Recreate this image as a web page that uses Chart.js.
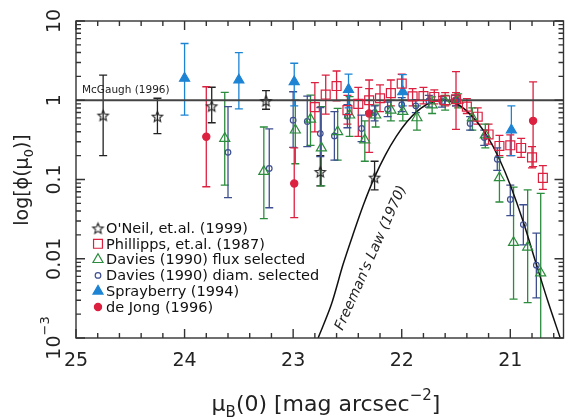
<!DOCTYPE html>
<html>
<head>
<meta charset="utf-8">
<script src="https://cdn.jsdelivr.net/npm/chart.js@4.4.0/dist/chart.umd.min.js"></script>
<style>
  html, body { margin: 0; padding: 0; background: #fff; }
  canvas { display: block; }
</style>
</head>
<body>
<canvas id="chart" width="571" height="420"></canvas>
<script>
// O'Neil et al. (1999) - open stars
const oneilX = [24.75, 24.25, 23.75, 23.25, 22.75, 22.25];
const oneilY = [0.65, 0.63, 0.85, 0.99, 0.126, 0.107];
const oneilLo = [0.20, 0.38, 0.52, 0.77, 0.083, 0.074];
const oneilHi = [2.08, 1.06, 1.46, 1.32, 0.20, 0.17];

// Phillipps et al. (1987) - open squares
const phX = [22.8, 22.7, 22.6, 22.5, 22.4, 22.3, 22.2, 22.1, 22.0, 21.9, 21.8, 21.7, 21.6, 21.5, 21.4, 21.3, 21.2, 21.1, 21.0, 20.9, 20.8, 20.7];
const phY = [0.82, 1.18, 1.51, 0.75, 0.90, 1.0, 1.06, 1.23, 1.62, 1.12, 1.13, 1.1, 1.0, 1.03, 0.83, 0.62, 0.37, 0.265, 0.27, 0.25, 0.19, 0.105];
const phLo = [0.40, 0.67, 0.98, 0.50, 0.35, 0.72, 0.72, 0.85, 1.19, 0.85, 0.9, 0.9, 0.85, 0.85, 0.68, 0.5, 0.28, 0.2, 0.2, 0.19, 0.14, 0.075];
const phHi = [1.67, 2.08, 2.34, 1.15, 1.45, 1.4, 1.56, 1.8, 2.13, 1.4, 1.45, 1.35, 1.25, 1.25, 1.05, 0.8, 0.5, 0.36, 0.365, 0.33, 0.26, 0.15];

// Davies (1990) flux selected - open triangles
const dfX = [23.63, 23.27, 22.98, 22.84, 22.74, 22.59, 22.48, 22.34, 22.24, 22.10, 21.99, 21.86, 21.72, 21.60, 21.48, 21.35, 21.23, 21.10, 20.97, 20.84, 20.72];
const dfY = [0.33, 0.126, 0.42, 0.575, 0.25, 0.40, 0.65, 0.316, 0.65, 0.75, 0.72, 0.60, 0.87, 0.96, 1.0, 0.6, 0.365, 0.105, 0.016, 0.014, 0.0066];
const dfLo = [0.085, 0.032, 0.158, 0.27, 0.083, 0.176, 0.35, 0.17, 0.46, 0.55, 0.55, 0.42, 0.68, 0.75, 0.8, 0.42, 0.25, 0.052, 0.0031, 0.0028, 0.0008];
const dfHi = [1.26, 0.46, 1.0, 1.16, 0.83, 0.79, 1.11, 0.55, 0.87, 1.0, 1.0, 0.85, 1.1, 1.15, 1.2, 0.8, 0.5, 0.19, 0.08, 0.074, 0.067];

// Davies (1990) diameter selected - small open circles
const ddX = [23.6, 23.22, 23.0, 22.87, 22.75, 22.62, 22.50, 22.37, 22.25, 22.13, 22.0, 21.87, 21.75, 21.63, 21.5, 21.37, 21.24, 21.12, 21.0, 20.88, 20.76];
const ddY = [0.22, 0.138, 0.56, 0.54, 0.38, 0.355, 0.63, 0.44, 0.70, 0.77, 0.88, 0.85, 0.98, 0.96, 0.99, 0.51, 0.34, 0.18, 0.056, 0.027, 0.0083];
const ddLo = [0.059, 0.044, 0.255, 0.26, 0.194, 0.176, 0.45, 0.3, 0.55, 0.62, 0.72, 0.7, 0.82, 0.82, 0.85, 0.42, 0.27, 0.13, 0.035, 0.015, 0.0032];
const ddHi = [0.83, 0.435, 1.28, 1.13, 0.81, 0.72, 0.88, 0.65, 0.85, 0.95, 1.08, 1.02, 1.15, 1.12, 1.15, 0.62, 0.42, 0.25, 0.085, 0.048, 0.021];

// Sprayberry (1994) - filled triangles
const spX = [24.0, 23.5, 22.99, 22.49, 21.99, 20.99];
const spY = [1.89, 1.8, 1.71, 1.37, 1.28, 0.42];
const spLo = [0.65, 0.78, 0.85, 0.8, 0.85, 0.2];
const spHi = [5.2, 4.0, 2.93, 2.14, 2.1, 0.85];

// de Jong (1996) - filled circles
const djX = [23.8, 22.99, 22.30, 21.50, 20.79];
const djY = [0.346, 0.089, 0.68, 1.0, 0.55];
const djLo = [0.081, 0.033, 0.22, 0.43, 0.145];
const djHi = [1.48, 0.25, 1.8, 2.3, 1.71];

// McGaugh (1996) flat line and Freeman's law curve
const mcX = [25, 20.5];
const mcY = [1, 1];
const fmX = [22.77, 22.65, 22.54, 22.45, 22.35, 22.25, 22.15, 22.05, 21.95, 21.85, 21.75, 21.62, 21.5, 21.4, 21.3, 21.2, 21.1, 21.0, 20.88, 20.76, 20.65, 20.54];
const fmY = [0.001, 0.0026, 0.0085, 0.02, 0.049, 0.107, 0.205, 0.35, 0.54, 0.74, 0.91, 1.0, 0.91, 0.73, 0.52, 0.33, 0.18, 0.085, 0.029, 0.0085, 0.0028, 0.001];

const xTickValues = [25, 24, 23, 22, 21];
const xTickLabels = ['25', '24', '23', '22', '21'];
const yTickValues = [10, 1, 0.1, 0.01, 0.001];
const yTickLabels = ['10', '1', '0.1', '0.01', '10^-3'];

const legendNames = ["O'Neil, et.al. (1999)", "Phillipps, et.al. (1987)", "Davies (1990) flux selected",
    "Davies (1990) diam. selected", "Sprayberry (1994)", "de Jong (1996)"];

const FONT = "'DejaVu Sans', sans-serif";
const RED = '#dc2040';
const GREEN = '#2a8c3c';
const NAVY = '#3d4f8f';
const BLUE = '#1d84d4';
const BLACK = '#222';

function pts(xs, ys) {
    return xs.map((x, i) => ({ x: x, y: ys[i] }));
}

function makeStar(r, color) {
    const c = document.createElement('canvas');
    const s = Math.ceil(r * 2 + 4);
    c.width = s;
    c.height = s;
    const g = c.getContext('2d');
    g.strokeStyle = color;
    g.lineWidth = 1.1;
    g.beginPath();
    for (let k = 0; k < 10; k++) {
        const rr = k % 2 ? r * 0.45 : r;
        const a = -Math.PI / 2 + k * Math.PI / 5;
        const px = s / 2 + rr * Math.cos(a);
        const py = s / 2 + 0.8 + rr * Math.sin(a);
        if (k) g.lineTo(px, py); else g.moveTo(px, py);
    }
    g.closePath();
    g.stroke();
    return c;
}

const starImg = makeStar(5.5, BLACK);

function markerSet(i, xs, ys, lo, hi, style, radius, color, filled) {
    return {
        label: legendNames[i],
        data: pts(xs, ys),
        errLo: lo,
        errHi: hi,
        errColor: color,
        pointStyle: style,
        pointRadius: radius,
        borderColor: color,
        backgroundColor: filled ? color : 'rgba(0,0,0,0)',
        borderWidth: 1.2,
        filled: filled
    };
}

const datasets = [
    markerSet(0, oneilX, oneilY, oneilLo, oneilHi, starImg, 6, BLACK, false),
    markerSet(1, phX, phY, phLo, phHi, 'rect', 6.3, RED, false),
    markerSet(2, dfX, dfY, dfLo, dfHi, 'triangle', 5.8, GREEN, false),
    markerSet(3, ddX, ddY, ddLo, ddHi, 'circle', 2.8, NAVY, false),
    markerSet(4, spX, spY, spLo, spHi, 'triangle', 5.8, BLUE, true),
    markerSet(5, djX, djY, djLo, djHi, 'circle', 3.6, RED, true),
    {
        label: 'McGaugh', data: pts(mcX, mcY), showLine: true, pointRadius: 0,
        borderColor: '#444', borderWidth: 1.8
    },
    {
        label: 'Freeman', data: pts(fmX, fmY), showLine: true, pointRadius: 0,
        borderColor: '#111', borderWidth: 1.5, tension: 0.3
    }
];

// vertical error bars with caps, drawn under the markers
const errorBars = {
    id: 'errorBars',
    beforeDatasetsDraw(chart) {
        const { ctx, chartArea: a, scales: { x, y } } = chart;
        ctx.save();
        ctx.beginPath();
        ctx.rect(a.left, a.top, a.right - a.left, a.bottom - a.top);
        ctx.clip();
        chart.data.datasets.forEach(ds => {
            if (!ds.errLo) return;
            ctx.strokeStyle = ds.errColor;
            ctx.lineWidth = 1.3;
            ds.data.forEach((p, i) => {
                const px = x.getPixelForValue(p.x);
                const y1 = y.getPixelForValue(ds.errLo[i]);
                const y2 = y.getPixelForValue(ds.errHi[i]);
                ctx.beginPath();
                ctx.moveTo(px, y1); ctx.lineTo(px, y2);
                ctx.moveTo(px - 4, y1); ctx.lineTo(px + 4, y1);
                ctx.moveTo(px - 4, y2); ctx.lineTo(px + 4, y2);
                ctx.stroke();
            });
        });
        ctx.restore();
    }
};

// draws text pieces (with sub/superscripts) centred on (cx, cy) along angle
function drawRich(ctx, parts, cx, cy, angle) {
    ctx.save();
    ctx.translate(cx, cy);
    ctx.rotate(angle);
    let w = 0;
    parts.forEach(p => {
        ctx.font = p.font;
        p.w = ctx.measureText(p.t).width;
        w += p.w;
    });
    let pos = -w / 2;
    ctx.textBaseline = 'alphabetic';
    ctx.textAlign = 'left';
    parts.forEach(p => {
        ctx.font = p.font;
        ctx.fillText(p.t, pos, p.dy || 0);
        pos += p.w;
    });
    ctx.restore();
}

function drawSymbol(ctx, ds, x, y) {
    const st = ds.pointStyle;
    if (typeof st !== 'string') {
        ctx.drawImage(st, x - st.width / 2, y - st.height / 2);
        return;
    }
    const r = ds.pointRadius;
    ctx.beginPath();
    if (st === 'rect') {
        const h = r * Math.SQRT1_2;
        ctx.rect(x - h, y - h, 2 * h, 2 * h);
    } else if (st === 'triangle') {
        for (let k = 0; k < 3; k++) {
            const a = k * 2 * Math.PI / 3;
            const px = x + Math.sin(a) * r, py = y - Math.cos(a) * r;
            if (k) ctx.lineTo(px, py); else ctx.moveTo(px, py);
        }
        ctx.closePath();
    } else {
        ctx.arc(x, y, r, 0, 2 * Math.PI);
    }
    ctx.lineWidth = ds.borderWidth;
    ctx.strokeStyle = ds.borderColor;
    ctx.fillStyle = ds.backgroundColor;
    if (ds.filled) ctx.fill();
    ctx.stroke();
}

const frame = {
    id: 'frame',
    afterDraw(chart) {
        const { ctx, chartArea: a, scales: { x, y } } = chart;
        ctx.save();
        ctx.strokeStyle = '#333';
        ctx.lineWidth = 1.4;
        ctx.strokeRect(a.left, a.top, a.right - a.left, a.bottom - a.top);

        // x ticks every 0.2 mag, top and bottom, inward
        ctx.beginPath();
        for (let t = 103; t <= 125; t++) {
            const px = x.getPixelForValue(t / 5);
            const len = t % 5 === 0 ? 9 : 5;
            ctx.moveTo(px, a.bottom); ctx.lineTo(px, a.bottom - len);
            ctx.moveTo(px, a.top); ctx.lineTo(px, a.top + len);
        }
        // log y ticks, left and right, inward
        for (let e = -3; e <= 1; e++) {
            for (let m = 1; m <= 9; m++) {
                const v = m * Math.pow(10, e);
                if (v > 10.0001) break;
                const py = y.getPixelForValue(v);
                const len = m === 1 ? 9 : 5;
                ctx.moveTo(a.left, py); ctx.lineTo(a.left + len, py);
                ctx.moveTo(a.right, py); ctx.lineTo(a.right - len, py);
            }
        }
        ctx.stroke();

        ctx.fillStyle = '#222';
        ctx.font = '19px ' + FONT;
        ctx.textAlign = 'center';
        ctx.textBaseline = 'middle';
        xTickValues.forEach((v, i) => {
            ctx.fillText(xTickLabels[i], x.getPixelForValue(v), 361);
        });

        yTickValues.forEach((v, i) => {
            const lab = yTickLabels[i];
            const py = y.getPixelForValue(v);
            let parts;
            if (lab.indexOf('^') >= 0) {
                const [b, ex] = lab.split('^');
                parts = [{ t: b, font: '19px ' + FONT }, { t: ex.replace('-', '\u2212'), font: '13px ' + FONT, dy: -11 }];
            } else {
                parts = [{ t: lab, font: '19px ' + FONT }];
            }
            drawRich(ctx, parts, 60, py, -Math.PI / 2);
        });

        // axis titles
        drawRich(ctx, [
            { t: 'log[\u03D5(\u03BC', font: '19px ' + FONT },
            { t: '0', font: '13px ' + FONT, dy: 5 },
            { t: ')]', font: '19px ' + FONT }
        ], 28, 180, -Math.PI / 2);

        drawRich(ctx, [
            { t: '\u03BC', font: '22px ' + FONT },
            { t: 'B', font: '15px ' + FONT, dy: 6 },
            { t: '(0) [mag arcsec', font: '22px ' + FONT },
            { t: '\u22122', font: '15px ' + FONT, dy: -11 },
            { t: ']', font: '22px ' + FONT }
        ], 326, 411, 0);

        // annotations
        ctx.fillStyle = '#222';
        ctx.font = '10.5px ' + FONT;
        ctx.textAlign = 'left';
        ctx.textBaseline = 'alphabetic';
        ctx.fillText('McGaugh (1996)', 82, 93);

        ctx.save();
        ctx.translate(371, 258);
        ctx.rotate(-66 * Math.PI / 180);
        ctx.font = 'italic 14px ' + FONT;
        ctx.textAlign = 'center';
        ctx.textBaseline = 'middle';
        ctx.fillText("Freeman's Law (1970)", 0, 0);
        ctx.restore();

        // legend
        ctx.font = '14.5px ' + FONT;
        ctx.textAlign = 'left';
        ctx.textBaseline = 'middle';
        for (let i = 0; i < 6; i++) {
            const ds = chart.data.datasets[i];
            const ly = 228 + i * 15.8;
            drawSymbol(ctx, ds, 98, ly);
            ctx.fillStyle = '#111';
            ctx.fillText(legendNames[i], 106, ly + 1);
        }
        ctx.restore();
    }
};

new Chart(document.getElementById('chart'), {
    type: 'scatter',
    data: { datasets: datasets },
    options: {
        responsive: false,
        animation: false,
        devicePixelRatio: 1,
        layout: { padding: { left: 76, top: 21, right: 1, bottom: 82 } },
        scales: {
            x: { type: 'linear', reverse: true, min: 20.51, max: 25, display: false },
            y: { type: 'logarithmic', min: 0.001, max: 10, display: false }
        },
        plugins: {
            legend: { display: false },
            tooltip: { enabled: false }
        }
    },
    plugins: [errorBars, frame]
});
</script>
</body>
</html>
